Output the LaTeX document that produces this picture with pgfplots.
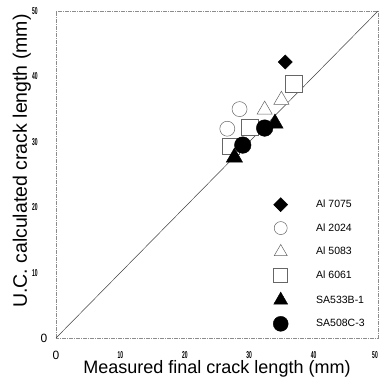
\documentclass[border=0pt]{standalone}
\usepackage{pgfplots}
\pgfplotsset{compat=1.18}
\usepackage{fontspec}
\setmainfont{Liberation Sans}
\usetikzlibrary{calc}

% small condensed numerals for the tick labels
\newcommand{\tk}[1]{\scalebox{0.5}[1]{\bfseries\fontsize{10}{10}\selectfont #1}}

\begin{document}
\begin{tikzpicture}[x=1pt,y=1pt]
\begin{axis}[
  name=ax,
  scale only axis,
  width=322pt, height=327pt,
  xmin=0, xmax=50, ymin=0, ymax=50,
  xtick={0,10,20,30,40,50},
  ytick={0,10,20,30,40,50},
  xticklabels={{\fontsize{12}{12}\selectfont 0},\tk{10},\tk{20},\tk{30},\tk{40},{\makebox[0pt]{\tk{50}\hspace*{6pt}}}},
  yticklabels={{\makebox[0pt]{\hspace*{18pt}\fontsize{12}{12}\selectfont 0}},\tk{10},\tk{20},\tk{30},\tk{40},\tk{50}},
  xticklabel style={anchor=center, yshift=-17pt},
  yticklabel style={anchor=center, xshift=-21pt},
  major tick length=0pt,
  axis line style={black!45, line width=0.5pt, dash pattern=on 4pt off 1pt on 1pt off 1pt},
  xlabel={Measured final crack length (mm)},
  ylabel={U.C. calculated crack length (mm)},
  xlabel style={font=\fontsize{18}{18}\selectfont, at={(axis description cs:0.5,-0.095)}, anchor=center},
  ylabel style={font=\fontsize{19.5}{19.5}\selectfont, at={(axis description cs:-0.106,0.541)}, anchor=center},
  clip=false,
  legend style={draw=none, fill=none, inner sep=0pt,
    font=\fontsize{10.5}{10.5}\selectfont,
    row sep=9.8pt,
    at={(axis cs:33.7,21.5)}, anchor=north west,
    /tikz/every odd column/.append style={column sep=26pt}},
  legend cell align=left,
]
% 1:1 reference line
\addplot[black!75, line width=0.5pt, forget plot] coordinates {(0,0) (50,50)};

% Al 6061 (drawn first, sits underneath the others)
\addplot[only marks, mark=square*, mark size=8.3pt, draw=black!60, fill=white, line width=0.5pt, forget plot]
  coordinates {(36.9,38.9) (30.1,32.2) (27.1,29.3)};
% Al 2024
\addplot[only marks, mark=*, mark size=7.5pt, draw=black!60, fill=white, line width=0.5pt, forget plot]
  coordinates {(28.5,35.0) (26.6,32.0)};
% Al 5083
\addplot[only marks, mark=triangle*, mark size=8.7pt, draw=black!60, fill=white, line width=0.5pt, forget plot]
  coordinates {(32.4,34.9) (35.0,36.4)};
% Al 7075
\addplot[only marks, mark=square*, mark size=5pt, mark options={rotate=45}, black, forget plot]
  coordinates {(35.6,42.2)};
% SA533B-1
\addplot[only marks, mark=triangle*, mark size=9.5pt, black, forget plot]
  coordinates {(27.7,27.6) (34.0,32.8)};
% SA508C-3
\addplot[only marks, mark=*, mark size=8.3pt, black, forget plot]
  coordinates {(29.0,29.5) (32.4,32.1)};

% legend
\addlegendimage{only marks, mark=square*, mark size=5pt, mark options={rotate=45}, black}
\addlegendentry{Al 7075}
\addlegendimage{only marks, mark=*, mark size=6.5pt, draw=black!60, fill=white, line width=0.5pt}
\addlegendentry{Al 2024}
\addlegendimage{only marks, mark=triangle*, mark size=7.5pt, draw=black!60, fill=white, line width=0.5pt}
\addlegendentry{Al 5083}
\addlegendimage{only marks, mark=square*, mark size=7pt, draw=black!60, fill=white, line width=0.5pt}
\addlegendentry{Al 6061}
\addlegendimage{only marks, mark=triangle*, mark size=8pt, black}
\addlegendentry{SA533B-1}
\addlegendimage{only marks, mark=*, mark size=7.5pt, black}
\addlegendentry{SA508C-3}
\end{axis}
\pgfresetboundingbox
\path ($(ax.south west)+(-56pt,-50pt)$) rectangle ($(ax.north east)+(1pt,11pt)$);
\end{tikzpicture}
\end{document}
